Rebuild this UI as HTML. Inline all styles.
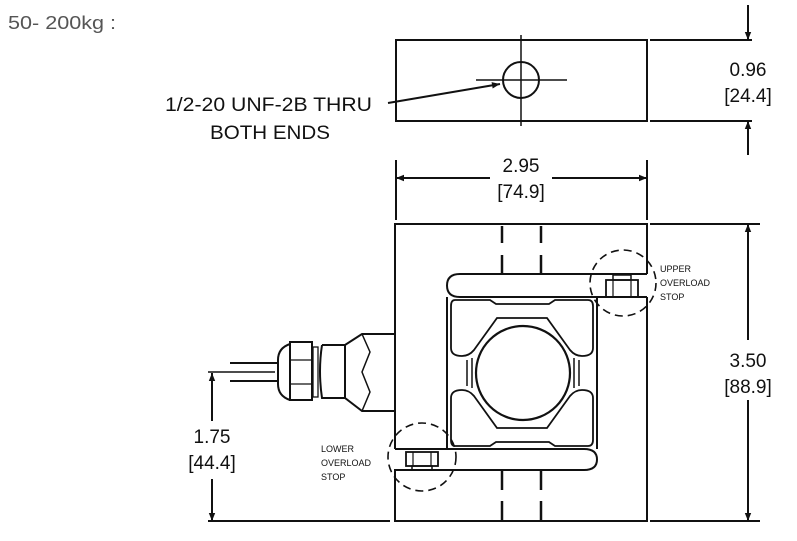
<!DOCTYPE html>
<html><head><meta charset="utf-8"><style>
html,body{margin:0;padding:0;background:#fff;width:797px;height:541px;overflow:hidden}
svg{display:block}
text{font-family:"Liberation Sans",sans-serif;fill:#111}
</style></head><body>
<svg width="797" height="541" viewBox="0 0 797 541" xmlns="http://www.w3.org/2000/svg">
<defs><marker id="a" viewBox="0 0 10 10" refX="10" refY="5" markerWidth="10" markerHeight="8" orient="auto-start-reverse" markerUnits="userSpaceOnUse"><path d="M0,1 L10,5 L0,9 z" fill="#111"/></marker></defs>
<text x="8" y="29" font-size="18" textLength="108" lengthAdjust="spacingAndGlyphs" style="fill:#555">50- 200kg :</text>
<g stroke="#111" stroke-width="2" fill="none">
<rect x="396" y="40" width="251" height="81"/>
<circle cx="521" cy="80" r="18"/>
<line x1="521" y1="35" x2="521" y2="126" stroke-width="1.5"/>
<line x1="476" y1="80" x2="567" y2="80" stroke-width="1.5"/>
<line x1="388" y1="103" x2="500" y2="84" marker-end="url(#a)"/>
<line x1="650" y1="40" x2="752" y2="40"/><line x1="650" y1="121" x2="752" y2="121"/>
<line x1="748" y1="5" x2="748" y2="40" marker-end="url(#a)"/>
<line x1="748" y1="155" x2="748" y2="121" marker-end="url(#a)"/>
<line x1="396" y1="160" x2="396" y2="220"/><line x1="647" y1="160" x2="647" y2="220"/>
<line x1="396" y1="178" x2="490" y2="178" marker-start="url(#a)"/>
<line x1="552" y1="178" x2="647" y2="178" marker-end="url(#a)"/>
<path d="M395,449 V224 H647 V274"/>
<path d="M647,297 V521 H395 V470 H437"/>
<path d="M395,449 H447"/>
<path d="M647,274 H460 Q447,274 447,285.5 Q447,297 460,297 H647"/>
<path d="M447,297 V449"/>
<path d="M437,470 H584 Q597,470 597,459.5 Q597,449 584,449 H447"/>
<line x1="597" y1="297" x2="597" y2="449"/>
<path d="M455,300 H490 L496,304 H549 L555,300 H588 Q593,300 593,306 V348 Q593,356 582,356 Q575,356 570,350 L547,318 H497 L474,350 Q469,356 462,356 Q451,356 451,348 V306 Q451,300 455,300 Z" stroke-width="1.8"/>
<path d="M455,446 H490 L496,442 H549 L555,446 H588 Q593,446 593,440 V398 Q593,390 582,390 Q575,390 570,396 L547,428 H497 L474,396 Q469,390 462,390 Q451,390 451,398 V440 Q451,446 455,446 Z" stroke-width="1.8"/>
<circle cx="523" cy="373" r="47" stroke-width="2.2"/>
<line x1="467" y1="360" x2="467" y2="386" stroke-width="1.5"/><line x1="472" y1="358" x2="472" y2="388" stroke-width="1.5"/>
<line x1="574" y1="358" x2="574" y2="388" stroke-width="1.5"/><line x1="579" y1="360" x2="579" y2="386" stroke-width="1.5"/>
<g stroke-width="2.5"><line x1="502" y1="226" x2="502" y2="243"/><line x1="502" y1="255" x2="502" y2="273"/>
<line x1="541" y1="226" x2="541" y2="243"/><line x1="541" y1="255" x2="541" y2="273"/>
<line x1="502" y1="471" x2="502" y2="490"/><line x1="502" y1="501" x2="502" y2="520"/>
<line x1="541" y1="471" x2="541" y2="490"/><line x1="541" y1="501" x2="541" y2="520"/></g>
<rect x="613" y="275" width="18" height="5" stroke-width="1.5"/>
<rect x="606" y="280" width="32" height="17" stroke-width="1.8"/>
<line x1="613" y1="280" x2="613" y2="297" stroke-width="1.2"/><line x1="631" y1="280" x2="631" y2="297" stroke-width="1.2"/>
<rect x="412" y="466" width="20" height="4" stroke-width="1.5"/>
<rect x="406" y="452" width="32" height="14" stroke-width="1.8"/>
<line x1="413" y1="452" x2="413" y2="466" stroke-width="1.2"/><line x1="431" y1="452" x2="431" y2="466" stroke-width="1.2"/>
<circle cx="623" cy="283" r="33" stroke-dasharray="8,5" stroke-width="1.6"/>
<circle cx="422" cy="457" r="34" stroke-dasharray="8,5" stroke-width="1.6"/>
<line x1="230" y1="363" x2="278" y2="363"/><line x1="230" y1="381" x2="278" y2="381"/>
<line x1="208" y1="372" x2="275" y2="372" stroke-width="1.5"/>
<path d="M290,344 Q278,348 278,360 V384 Q278,396 290,400"/>
<rect x="290" y="342" width="22" height="58"/>
<line x1="290" y1="360" x2="312" y2="360" stroke-width="1.3"/><line x1="290" y1="384" x2="312" y2="384" stroke-width="1.3"/>
<rect x="313" y="347" width="5" height="50" stroke-width="1.3"/>
<path d="M322,345 H345 L362,334 H395 M322,345 Q318,371 322,398 H345 L362,411 H395"/>
<line x1="345" y1="345" x2="345" y2="398"/>
<path d="M362,334 L370,352 L362,372 L370,392 L362,411" stroke-width="1.5"/>
<line x1="212" y1="521" x2="212" y2="479" marker-start="url(#a)"/>
<line x1="212" y1="421" x2="212" y2="373" marker-end="url(#a)"/>
<line x1="208" y1="521" x2="390" y2="521"/>
<line x1="650" y1="224" x2="760" y2="224"/><line x1="650" y1="521" x2="760" y2="521"/>
<line x1="748" y1="340" x2="748" y2="224" marker-end="url(#a)"/>
<line x1="748" y1="400" x2="748" y2="521" marker-end="url(#a)"/>
</g>
<g font-size="19" text-anchor="middle">
<text x="748" y="76">0.96</text><text x="748" y="102">[24.4]</text>
<text x="521" y="172">2.95</text><text x="521" y="198">[74.9]</text>
<text x="748" y="367">3.50</text><text x="748" y="393">[88.9]</text>
<text x="212" y="443">1.75</text><text x="212" y="469">[44.4]</text>
</g>
<g font-size="19">
<text x="165" y="111" textLength="207" lengthAdjust="spacingAndGlyphs">1/2-20 UNF-2B THRU</text>
<text x="210" y="139" textLength="120" lengthAdjust="spacingAndGlyphs">BOTH ENDS</text>
</g>
<g font-size="9">
<text x="660" y="272">UPPER</text><text x="660" y="286">OVERLOAD</text><text x="660" y="300">STOP</text>
<text x="321" y="452">LOWER</text><text x="321" y="466">OVERLOAD</text><text x="321" y="480">STOP</text>
</g>
</svg>
</body></html>
